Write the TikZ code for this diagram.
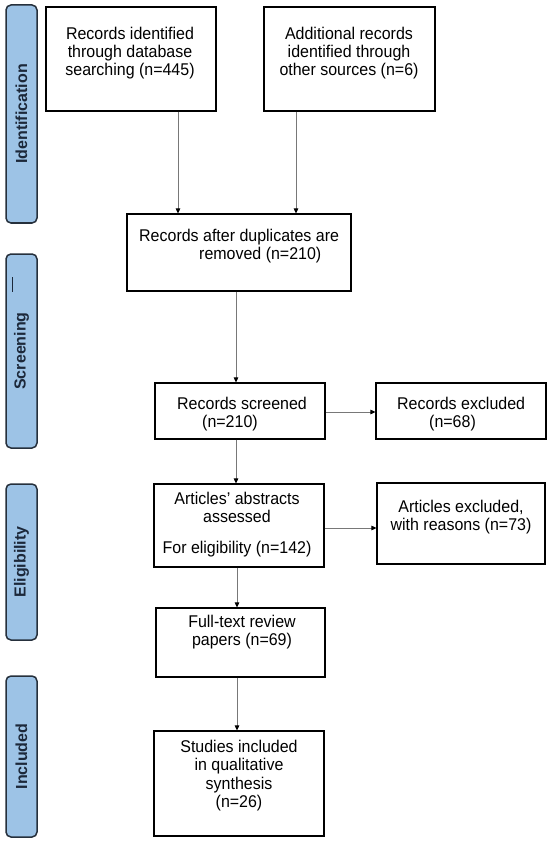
\documentclass[tikz,border=0pt]{standalone}
\usepackage{fontspec}
\setmainfont{Liberation Sans}
\newfontfamily\reffont[FakeStretch=0.94]{Liberation Sans}
\usetikzlibrary{arrows.meta}
\definecolor{sidefill}{RGB}{157,195,230}
\definecolor{sideborder}{RGB}{38,48,60}
\definecolor{sidetext}{RGB}{28,40,58}
\definecolor{arrowgray}{RGB}{120,120,120}
\begin{document}
\begin{tikzpicture}[x=1pt,y=1pt,
  box/.style={draw=black, line width=1.1pt, inner sep=0pt, fill=white},
  txt/.style={font=\reffont\fontsize{17}{18.4}\selectfont, inner sep=0pt, align=center, anchor=north},
  txtl/.style={font=\reffont\fontsize{17}{18.4}\selectfont, inner sep=0pt, align=left, anchor=north west},
  side/.style={draw=sideborder, fill=sidefill, line width=1.5pt, rounded corners=5pt, rotate=90,
    minimum height=31pt, inner sep=0pt, text=sidetext, font=\fontsize{16}{18}\selectfont\bfseries},
  arr/.style={draw=arrowgray, line width=0.8pt, -{Triangle[length=5pt,width=4.5pt,color=black]}}
]
\useasboundingbox[fill=white] (0,0) rectangle (550,-842);
\newcommand{\fs}{\rule{0pt}{13pt}}
% side labels
\node[side, minimum width=218pt] (s1) at (21.5,-114) {Identification};
\node[side, minimum width=194pt] (s2) at (21.5,-351) {Screening};
\draw[sidetext, line width=1pt] (12,-277) -- (12,-292);
\node[side, minimum width=156pt] (s3) at (21.5,-562) {Eligibility};
\node[side, minimum width=161pt] (s4) at (21.5,-756.5) {Included};
% boxes
\node[box, minimum width=170pt, minimum height=104pt] (b1) at (131,-59) {};
\node[box, minimum width=171pt, minimum height=104pt] (b2) at (349.5,-59) {};
\node[box, minimum width=224pt, minimum height=77pt] (b3) at (239,-252.5) {};
\node[box, minimum width=170pt, minimum height=56pt] (b4) at (240,-411) {};
\node[box, minimum width=170pt, minimum height=56pt] (b5) at (461,-411) {};
\node[box, minimum width=170pt, minimum height=83pt] (b6) at (239,-525.5) {};
\node[box, minimum width=168pt, minimum height=81pt] (b7) at (461,-523.5) {};
\node[box, minimum width=169pt, minimum height=69pt] (b8) at (240.5,-642.5) {};
\node[box, minimum width=170pt, minimum height=105pt] (b9) at (239,-783.5) {};
% texts
\node[txt] (t1) at (130,-26) {\fs Records identified\\through database\\searching (n=445)};
\node[txt] (t2) at (349,-26) {\fs Additional records\\identified through\\other sources (n=6)};
\node[txtl] (t3) at (139,-228) {\fs Records after duplicates are\\\hspace*{60pt}removed (n=210)};
\node[txtl] (t4) at (177,-396) {\fs Records screened\\\hspace*{25pt}(n=210)};
\node[txtl] (t5) at (397,-396) {\fs Records excluded\\\hspace*{32pt}(n=68)};
\node[txt] (t6) at (237,-491) {\fs Articles’ abstracts\\assessed\\[12.6pt]For eligibility (n=142)};
\node[txt] (t7) at (461,-499) {\fs Articles excluded,\\with reasons (n=73)};
\node[txt] (t8) at (242,-614) {\fs Full-text review\\papers (n=69)};
\node[txt] (t9) at (239,-739) {\fs Studies included\\in qualitative\\synthesis\\(n=26)};
% connector columns/rows
\coordinate (c1) at (178,0);
\coordinate (c2) at (296,0);
\coordinate (c3) at (236,0);
\coordinate (c4) at (237,0);
\coordinate (r1) at (0,-412);
\coordinate (r2) at (0,-528);
\draw[arr] (b1.south -| c1) -- (b3.north -| c1);
\draw[arr] (b2.south -| c2) -- (b3.north -| c2);
\draw[arr] (b3.south -| c3) -- (b4.north -| c3);
\draw[arr] (b4.south -| c3) -- (b6.north -| c3);
\draw[arr] (b6.south -| c4) -- (b8.north -| c4);
\draw[arr] (b8.south -| c4) -- (b9.north -| c4);
\draw[arr] (b4.east |- r1) -- (b5.west |- r1);
\draw[arr] (b6.east |- r2) -- (b7.west |- r2);
\end{tikzpicture}
\end{document}
